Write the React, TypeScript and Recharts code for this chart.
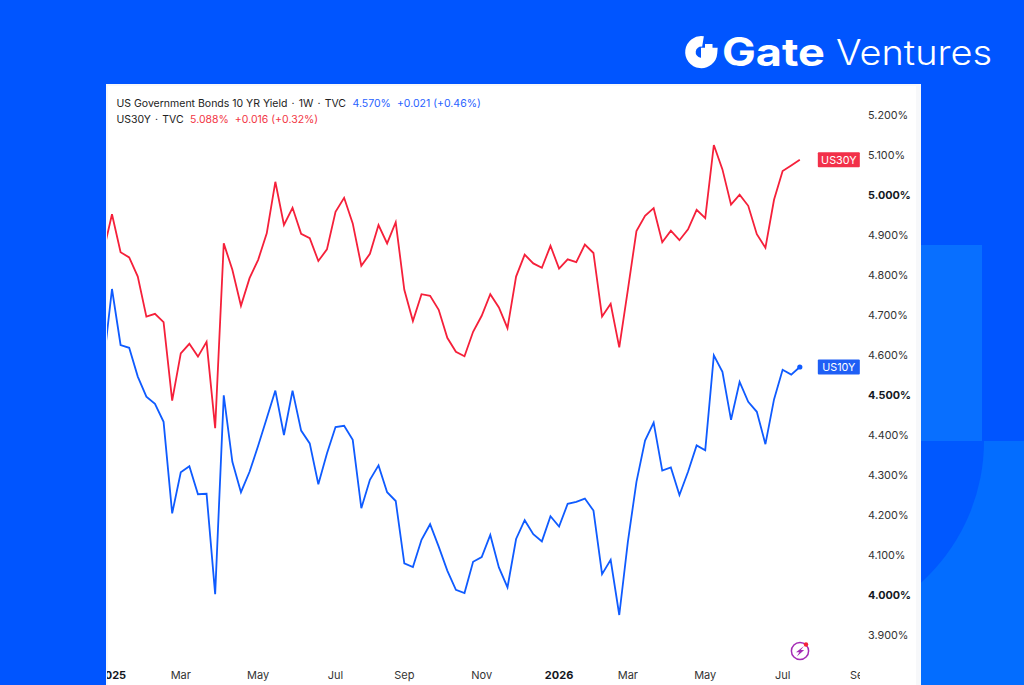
import React from 'react';
import { LineChart, Line, XAxis, YAxis } from 'recharts';

// weekly closes, first entry sits just left of the visible range
const us10y = [
  4.575, 4.765, 4.625, 4.618, 4.546, 4.496, 4.478, 4.433, 4.204, 4.307, 4.322, 4.252, 4.253, 4.002,
  4.499, 4.333, 4.257, 4.308, 4.373, 4.442, 4.511, 4.4, 4.511, 4.411, 4.379, 4.277, 4.354, 4.42,
  4.423, 4.388, 4.217, 4.288, 4.324, 4.257, 4.235, 4.079, 4.07, 4.138, 4.177, 4.121, 4.061, 4.013,
  4.005, 4.083, 4.095, 4.15, 4.069, 4.019, 4.14, 4.187, 4.152, 4.134, 4.197, 4.171, 4.228, 4.233,
  4.241, 4.211, 4.052, 4.088, 3.95, 4.133, 4.283, 4.386, 4.431, 4.311, 4.319, 4.25, 4.308, 4.374,
  4.362, 4.599, 4.558, 4.438, 4.533, 4.483, 4.458, 4.377, 4.489, 4.563, 4.551, 4.57,
];
const us30y = [
  4.858, 4.952, 4.857, 4.844, 4.796, 4.696, 4.703, 4.682, 4.486, 4.604, 4.628, 4.596, 4.633, 4.417,
  4.879, 4.813, 4.723, 4.792, 4.838, 4.904, 5.033, 4.925, 4.968, 4.903, 4.892, 4.835, 4.864, 4.958,
  4.993, 4.929, 4.823, 4.853, 4.925, 4.879, 4.932, 4.763, 4.685, 4.752, 4.748, 4.713, 4.643, 4.608,
  4.597, 4.658, 4.698, 4.752, 4.719, 4.667, 4.796, 4.851, 4.829, 4.818, 4.873, 4.816, 4.839, 4.832,
  4.876, 4.855, 4.696, 4.728, 4.619, 4.763, 4.91, 4.948, 4.967, 4.882, 4.911, 4.887, 4.914, 4.963,
  4.942, 5.125, 5.064, 4.976, 5.001, 4.973, 4.902, 4.868, 4.988, 5.06, 5.074, 5.088,
];

const monthTicks = [0, 8, 17, 26, 34, 43, 52, 60, 69, 78, 87];
const monthLabels = ['2025', 'Mar', 'May', 'Jul', 'Sep', 'Nov', '2026', 'Mar', 'May', 'Jul', 'Sep'];
const yieldTicks = [3.9, 4.0, 4.1, 4.2, 4.3, 4.4, 4.5, 4.6, 4.7, 4.8, 4.9, 5.0, 5.1, 5.2];
const boldYields = [4.0, 4.5, 5.0];

const chartData = us10y.map((v, i) => ({ week: i - 1, us10y: v, us30y: us30y[i] }));

const BLUE = '#0f5bff';
const RED = '#f5203a';
const FONT = 'Inter, "Liberation Sans", sans-serif';

function MonthTick({ x, y, payload }: any) {
  const label = monthLabels[monthTicks.indexOf(payload.value)];
  const bold = label === '2025' || label === '2026';
  return (
    <g clipPath="url(#timeAxisClip)">
      <text x={x} y={y} dy={10.5} textAnchor="middle" fontSize={11} fontWeight={bold ? 700 : 400} fill={bold ? '#131722' : '#333'} fontFamily={FONT}>
        {label}
      </text>
    </g>
  );
}

function YieldTick({ x, y, payload }: any) {
  const bold = boldYields.includes(payload.value);
  return (
    <text x={x} y={y} dy={3.6} textAnchor="start" fontSize={10.8} fontWeight={bold ? 700 : 400} fill={bold ? '#131722' : '#333'} fontFamily={FONT}>
      {payload.value.toFixed(3)}%
    </text>
  );
}

// end-of-line badge, only on the newest point
const endBadge = (text: string, color: string) => (props: any) => {
  if (props.index !== chartData.length - 1) return null;
  return (
    <g>
      <rect x={props.x + 18} y={props.y - 7.5} width={42} height={15} rx={1} fill={color} />
      <text x={props.x + 39} y={props.y + 4} textAnchor="middle" fontSize={10.8} fill="#fff" fontFamily={FONT}>
        {text}
      </text>
    </g>
  );
};

const lastDot = (props: any) => {
  if (props.index !== chartData.length - 1) return <g key={props.index} />;
  return <circle key={props.index} cx={props.cx} cy={props.cy} r={2.6} fill={BLUE} />;
};

function Backdrop() {
  return (
    <svg width={1024} height={685} style={{ position: 'absolute', left: 0, top: 0 }}>
      <rect width={1024} height={685} fill="#0055ff" />
      <rect x={921} y={245} width={61} height={196} fill="#086fff" />
      <rect x={921} y={441} width={103} height={244} fill="#036dff" />
      <clipPath id="arcClip">
        <rect x={921} y={441} width={103} height={244} />
      </clipPath>
      <circle cx={793} cy={441} r={191} fill="#0058ff" clipPath="url(#arcClip)" />
      {/* logo mark */}
      <path d="M703 41.5 A10.8 10.8 0 1 0 712 53 L701 53" fill="none" stroke="#fff" strokeWidth={10.5} />
      <rect x={705} y={44} width={7.5} height={7.5} fill="#fff" />
      <text x={722} y={66} fontSize={39} fontWeight={700} fill="#fff" fontFamily={FONT} textLength={103} lengthAdjust="spacingAndGlyphs">
        Gate
      </text>
      <text x={836} y={65} fontSize={35} fontWeight={300} fill="#fff" fontFamily={FONT} textLength={156} lengthAdjust="spacingAndGlyphs">
        Ventures
      </text>
    </svg>
  );
}

function StatusIcon() {
  return (
    <svg width={24} height={24} style={{ position: 'absolute', left: 788, top: 639 }}>
      <circle cx={12} cy={12} r={8.6} fill="#fff" stroke="#a42bb5" strokeWidth={1.5} />
      <path d="M16 7 L8 13.2 L11.4 13.2 L8.8 17.4 L16.2 11 L12.8 11 Z" fill="#a42bb5" />
      <circle cx={18} cy={5.5} r={2.2} fill="#f5203a" />
    </svg>
  );
}

const legendRow: React.CSSProperties = {
  position: 'absolute',
  left: 116.5,
  fontFamily: FONT,
  fontSize: 10.5,
  lineHeight: '14px',
  color: '#222',
  whiteSpace: 'nowrap',
};

const Sep = () => <span style={{ margin: '0 1.2px' }}>·</span>;

export default function App() {
  return (
    <div style={{ position: 'absolute', left: 0, top: 0, width: 1024, height: 685, overflow: 'hidden' }}>
      <Backdrop />
      <div
        style={{
          position: 'absolute',
          left: 106,
          top: 84,
          width: 815,
          height: 601,
          boxSizing: 'border-box',
          background: '#fff',
          borderStyle: 'solid',
          borderColor: '#f7f8fa',
          borderWidth: '2px 5px 0 2px',
        }}
      />
      <div style={{ position: 'absolute', left: 106, top: 84 }}>
        <LineChart width={815} height={601} data={chartData} margin={{ top: 0, right: 0, bottom: 0, left: 1 }}>
          <defs>
            <clipPath id="timeAxisClip">
              <rect x={1} y={560} width={753} height={41} />
            </clipPath>
          </defs>
          <XAxis
            dataKey="week"
            type="number"
            domain={[-0.58, 87]}
            allowDataOverflow
            ticks={monthTicks}
            interval={0}
            height={25}
            axisLine={false}
            tickLine={false}
            tick={<MonthTick />}
          />
          <YAxis
            orientation="right"
            type="number"
            domain={[3.8375, 5.2775]}
            allowDataOverflow
            ticks={yieldTicks}
            interval={0}
            width={61}
            axisLine={false}
            tickLine={false}
            tick={<YieldTick />}
          />
          <Line dataKey="us30y" stroke={RED} strokeWidth={1.8} strokeLinejoin="miter" dot={false} activeDot={false} label={endBadge('US30Y', '#f23049')} isAnimationActive={false} />
          <Line dataKey="us10y" stroke={BLUE} strokeWidth={1.8} strokeLinejoin="miter" dot={lastDot} activeDot={false} label={endBadge('US10Y', '#1f5ff5')} isAnimationActive={false} />
        </LineChart>
      </div>
      <div style={{ ...legendRow, top: 96.5 }}>
        US Government Bonds 10 YR Yield <Sep /> 1W <Sep /> TVC <span style={{ color: '#2962ff', marginLeft: 3.5 }}>4.570%</span>
        <span style={{ color: '#2962ff', marginLeft: 6 }}>+0.021 (+0.46%)</span>
      </div>
      <div style={{ ...legendRow, top: 112.5 }}>
        US30Y <Sep /> TVC <span style={{ color: '#f23645', marginLeft: 3.5 }}>5.088%</span>
        <span style={{ color: '#f23645', marginLeft: 6 }}>+0.016 (+0.32%)</span>
      </div>
      <StatusIcon />
    </div>
  );
}
